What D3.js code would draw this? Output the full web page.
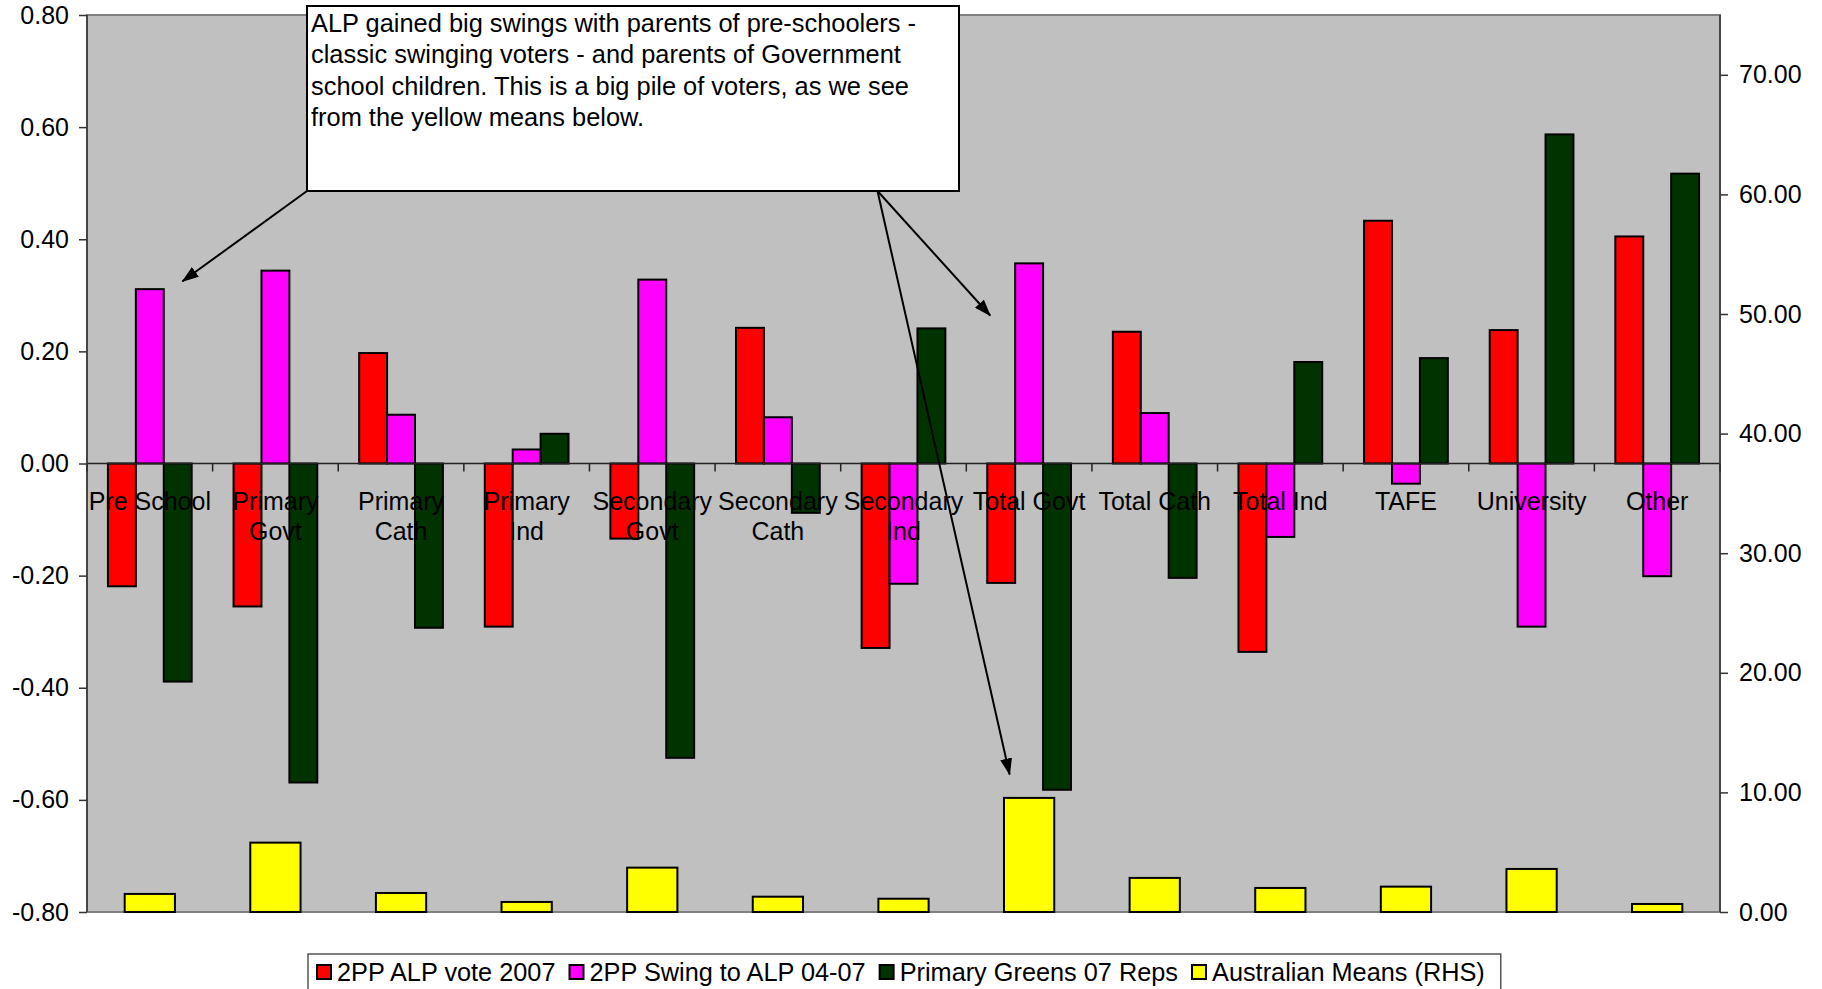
<!DOCTYPE html>
<html>
<head>
<meta charset="utf-8">
<script src="https://cdn.jsdelivr.net/npm/d3@7"></script>
<style>
  html, body { margin: 0; padding: 0; background: #fff; }
  svg { display: block; font-family: Arial, "Liberation Sans", sans-serif; }
</style>
</head>
<body>
<div id="chart"></div>
<script>
const categories = ['Pre School', 'Primary Govt', 'Primary Cath', 'Primary Ind', 'Secondary Govt', 'Secondary Cath',
  'Secondary Ind', 'Total Govt', 'Total Cath', 'Total Ind', 'TAFE', 'University', 'Other']

const alpVote2007 = [-0.219, -0.255, 0.197, -0.291, -0.134, 0.242, -0.329, -0.213, 0.235, -0.336, 0.433, 0.238, 0.405]
const swingToAlp = [0.311, 0.344, 0.087, 0.025, 0.328, 0.0825, -0.2145, 0.357, 0.09, -0.131, -0.036, -0.291, -0.201]
const greens07 = [-0.389, -0.569, -0.293, 0.053, -0.525, -0.088, 0.241, -0.582, -0.204, 0.181, 0.188, 0.587, 0.517]
const ausMeans = [1.51, 5.8, 1.59, 0.84, 3.71, 1.28, 1.11, 9.54, 2.85, 2.01, 2.12, 3.6, 0.67]

const leftTicks = [-0.8, -0.6, -0.4, -0.2, 0, 0.2, 0.4, 0.6, 0.8]
const rightTicks = [0, 10, 20, 30, 40, 50, 60, 70]

const seriesNames = ['2PP ALP vote 2007', '2PP Swing to ALP 04-07', 'Primary Greens 07 Reps', 'Australian Means (RHS)']
const seriesColors = ['#ff0000', '#ff00ff', '#003300', '#ffff00']

const noteLines = [
  'ALP gained big swings with parents of pre-schoolers -',
  'classic swinging voters - and parents of Government',
  'school children. This is a big pile of voters, as we see',
  'from the yellow means below.',
]

const W = 1822
const H = 989
const margin = { top: 15, right: 102, bottom: 77, left: 87 }
const plotW = W - margin.left - margin.right
const plotH = H - margin.top - margin.bottom
const font = 25

const svg = d3.select('#chart').append('svg').attr('width', W).attr('height', H)
const g = svg.append('g').attr('transform', `translate(${margin.left},${margin.top})`)

const fmt = d3.formatLocale({ decimal: '.', thousands: ',', grouping: [3], currency: ['$', ''], minus: '-' }).format('.2f')

// scales
const xCat = d3.scaleBand().domain(categories).range([0, plotW]).padding(0)
const xGroup = d3.scaleBand().domain(categories).range([0, plotW]).paddingInner(1 / 3).paddingOuter(1 / 6)
const xSub = d3.scaleBand().domain([0, 1, 2]).range([0, xGroup.bandwidth()])
const xRight = d3.scaleBand().domain(categories).range([0, plotW]).paddingInner(0.6).paddingOuter(0.3)
const yL = d3.scaleLinear().domain([-0.8, 0.8]).range([plotH, 0])
const yR = d3.scaleLinear().domain([0, 75]).range([plotH, 0])

// plot area
g.append('rect').attr('width', plotW).attr('height', plotH)
  .attr('fill', '#c0c0c0').attr('stroke', '#808080').attr('stroke-width', 2)

// primary bars
const primary = [alpVote2007, swingToAlp, greens07]
primary.forEach((vals, si) => {
  g.append('g').selectAll('rect').data(vals).join('rect')
    .attr('x', (d, i) => xGroup(categories[i]) + xSub(si))
    .attr('y', d => yL(Math.max(0, d)))
    .attr('width', xSub.bandwidth())
    .attr('height', d => Math.abs(yL(d) - yL(0)))
    .attr('fill', seriesColors[si])
    .attr('stroke', '#000').attr('stroke-width', 2)
})

// secondary bars
g.append('g').selectAll('rect').data(ausMeans).join('rect')
  .attr('x', (d, i) => xRight(categories[i]))
  .attr('y', d => yR(d))
  .attr('width', xRight.bandwidth())
  .attr('height', d => yR(0) - yR(d))
  .attr('fill', seriesColors[3])
  .attr('stroke', '#000').attr('stroke-width', 2)

// category axis on the zero line
const catAxis = g.append('g').attr('transform', `translate(0,${yL(0)})`)
catAxis.append('line').attr('x1', 0).attr('x2', plotW).attr('stroke', '#222').attr('stroke-width', 1.5)
catAxis.selectAll('line.tick').data(d3.range(categories.length + 1)).join('line')
  .attr('class', 'tick')
  .attr('x1', i => i * xCat.step()).attr('x2', i => i * xCat.step())
  .attr('y1', 0).attr('y2', 8)
  .attr('stroke', '#222').attr('stroke-width', 1.5)

const labels = catAxis.selectAll('text').data(categories).join('text')
  .attr('x', d => xCat(d) + xCat.bandwidth() / 2)
  .attr('y', 46)
  .attr('text-anchor', 'middle')
  .attr('font-size', font)
  .attr('fill', '#000')
  .text(d => d)
labels.each(function (d) {
  const t = d3.select(this)
  if (this.getComputedTextLength() > xCat.step() - 1) {
    const words = d.split(' ')
    t.text(null)
    words.forEach((w, k) => {
      t.append('tspan').attr('x', xCat(d) + xCat.bandwidth() / 2).attr('dy', k === 0 ? 0 : 30).text(w)
    })
  }
})

// value axes
const axL = g.append('g')
  .call(d3.axisLeft(yL).tickValues(leftTicks).tickFormat(fmt).tickSize(8).tickPadding(10))
const axR = g.append('g').attr('transform', `translate(${plotW},0)`)
  .call(d3.axisRight(yR).tickValues(rightTicks).tickFormat(fmt).tickSize(8).tickPadding(11))
;[axL, axR].forEach(ax => {
  ax.select('.domain').attr('stroke', '#333').attr('stroke-width', 1.5)
  ax.selectAll('.tick line').attr('stroke', '#333').attr('stroke-width', 1.5)
  ax.selectAll('.tick text').attr('font-size', font).attr('fill', '#000')
    .attr('font-family', 'Arial, "Liberation Sans", sans-serif')
})
axL.select('.domain').attr('d', `M0,0V${plotH}`)
axR.select('.domain').attr('d', `M0,0V${plotH}`)

// annotation box and arrows
const note = { x: 307 - margin.left, y: 6 - margin.top, w: 652, h: 185 }
svg.append('defs').append('marker')
  .attr('id', 'head').attr('markerUnits', 'userSpaceOnUse')
  .attr('markerWidth', 17).attr('markerHeight', 12)
  .attr('refX', 16).attr('refY', 6).attr('orient', 'auto')
  .append('path').attr('d', 'M0,0L17,6L0,12Z').attr('fill', '#000')

const arrows = [
  { from: [note.x, note.y + note.h], to: [xCat('Pre School') + 0.76 * xCat.step(), yL(0.325)] },
  { from: [note.x + 0.875 * note.w, note.y + note.h], to: [xCat('Total Govt') + 0.19 * xCat.step(), yL(0.264)] },
  { from: [note.x + 0.875 * note.w, note.y + note.h], to: [xCat('Total Govt') + 0.345 * xCat.step(), yR(11.5)] },
]
arrows.forEach(a => {
  g.append('line')
    .attr('x1', a.from[0]).attr('y1', a.from[1])
    .attr('x2', a.to[0]).attr('y2', a.to[1])
    .attr('stroke', '#000').attr('stroke-width', 2)
    .attr('marker-end', 'url(#head)')
})

g.append('rect')
  .attr('x', note.x).attr('y', note.y).attr('width', note.w).attr('height', note.h)
  .attr('fill', '#fff').attr('stroke', '#000').attr('stroke-width', 2)
g.append('g').selectAll('text').data(noteLines).join('text')
  .attr('x', note.x + 4)
  .attr('y', (d, i) => note.y + 26 + i * 31.3)
  .attr('font-size', 25.4)
  .attr('fill', '#000')
  .text(d => d)

// legend
const legend = svg.append('g')
const legendBox = legend.append('rect')
  .attr('x', 308).attr('y', 954).attr('height', 60)
  .attr('fill', '#fff').attr('stroke', '#555').attr('stroke-width', 1.5)
let lx = 317
seriesNames.forEach((name, i) => {
  legend.append('rect')
    .attr('x', lx).attr('y', 965).attr('width', 14).attr('height', 14)
    .attr('fill', seriesColors[i]).attr('stroke', '#000').attr('stroke-width', 2)
  const t = legend.append('text')
    .attr('x', lx + 20).attr('y', 981)
    .attr('font-size', 25.3).attr('fill', '#000')
    .text(name)
  lx += 20 + t.node().getComputedTextLength() + 14
})
legendBox.attr('width', lx - 308 + 2)
</script>
</body>
</html>
